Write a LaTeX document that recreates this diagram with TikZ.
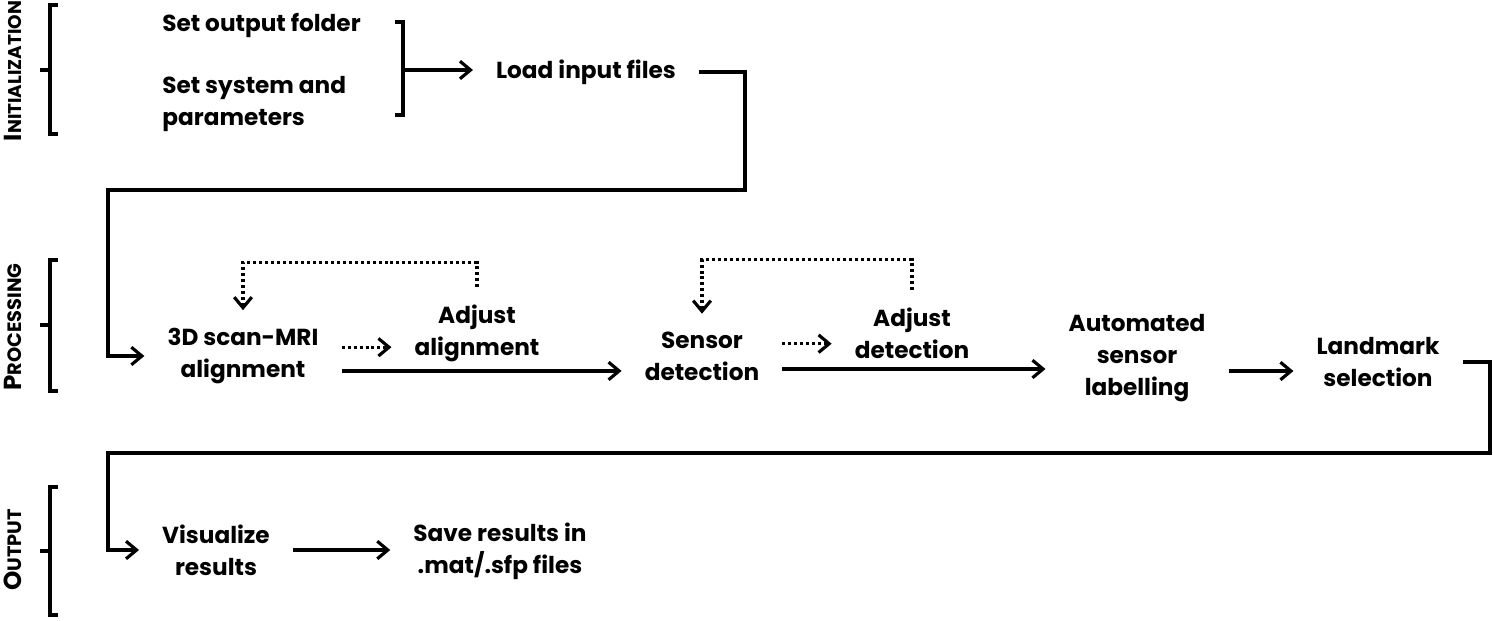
\documentclass[tikz,border=0pt]{standalone}
\usepackage{fontspec}
\setmainfont{Poppins}
\usetikzlibrary{arrows.meta,positioning,calc}

\begin{document}
\begin{tikzpicture}[
  x=0.02cm, y=-0.02cm,
  stepnode/.style={
    font=\fontsize{13.2}{18.3}\selectfont\bfseries, align=center,
    inner xsep=13pt, inner ysep=10pt},
  phase/.style={rotate=90, font=\fontsize{14}{16}\selectfont\bfseries},
  flow/.style={-{Straight Barb[length=6pt,width=10pt]}, line width=1.8pt},
  loop/.style={flow, dash pattern=on 1.7pt off 1.7pt},
  brk/.style={line width=1.8pt},
]
  \useasboundingbox (0,0) rectangle (1493,620);

  %% ---- Phases ----
  \node[phase] (ini) at (13,71)  {I{\fontsize{10.5}{12}\selectfont NITIALIZATION}};
  \node[phase] (pro) at (13,327) {P{\fontsize{11}{12}\selectfont ROCESSING}};
  \node[phase] (out) at (13,550) {O{\fontsize{11}{12}\selectfont UTPUT}};

  %% ---- Brackets ----
  \draw[brk] (58,5) -- (50,5) -- (50,134) -- (58,134);
  \draw[brk] (50,70) -- (40,70);
  \draw[brk] (58,260) -- (50,260) -- (50,391) -- (58,391);
  \draw[brk] (50,325) -- (40,325);
  \draw[brk] (58,487) -- (50,487) -- (50,615) -- (58,615);
  \draw[brk] (50,551) -- (40,551);

  %% ---- Initialization ----
  \node[stepnode, align=left, anchor=west, inner xsep=0pt] (outdir) at (162,25)  {Set output folder};
  \node[stepnode, align=left, anchor=west, inner xsep=0pt] (syspar) at (162,104) {Set system and\\parameters};
  \node[stepnode] (load) at (586,72) {Load input files};

  \draw[brk] (395,22) -- (403,22) -- (403,115) -- (395,115);
  \coordinate (join) at (403,70);
  \draw[flow] (join) -- (join -| load.west);

  %% ---- Processing ----
  \node[stepnode] (scan)   at (243,356)  {3D scan-MRI\\alignment};
  \node[stepnode] (adjal)  at (477,333)  {Adjust\\alignment};
  \node[stepnode] (sens)   at (702,356)  {Sensor\\detection};
  \node[stepnode] (adjdet) at (912,333)  {Adjust\\detection};
  \node[stepnode] (auto)   at (1137,358) {Automated\\sensor\\labelling};
  \node[stepnode] (land)   at (1378,362) {Landmark\\selection};

  \coordinate (r1) at (745,190);
  \coordinate (l1) at (108,190);
  \draw[flow] (load.east) -| (r1) -- (l1) |- (scan.west);

  \draw[loop] ([yshift=5pt]scan.east) -- ([yshift=5pt]scan.east -| adjal.west);
  \draw[flow] ([yshift=-8.5pt]scan.east) -- ([yshift=-8.5pt]scan.east -| sens.west);
  \draw[loop] (adjal.north) -- ++(0,-24) -| (scan.north);

  \draw[loop] ([yshift=7pt]sens.east) -- ([yshift=7pt]sens.east -| adjdet.west);
  \draw[flow] ([yshift=-7.4pt]sens.east) -- ([yshift=-7.4pt]sens.east -| auto.west);
  \draw[loop] (adjdet.north) -- ++(0,-30) -| (sens.north);

  \draw[flow] ([yshift=-7.4pt]auto.east) -- ([yshift=-7.4pt]auto.east -| land.west);

  %% ---- Output ----
  \node[stepnode] (vis)  at (216,550) {Visualize\\results};
  \node[stepnode] (save) at (500,551) {Save results in\\.mat/.sfp files};

  \coordinate (r2) at (1490,453);
  \coordinate (l2) at (108,453);
  \draw[flow] (land.east) -| (r2) -- (l2) |- (vis.west);
  \draw[flow] (vis.east) -- (vis.east -| save.west);

\end{tikzpicture}
\end{document}
